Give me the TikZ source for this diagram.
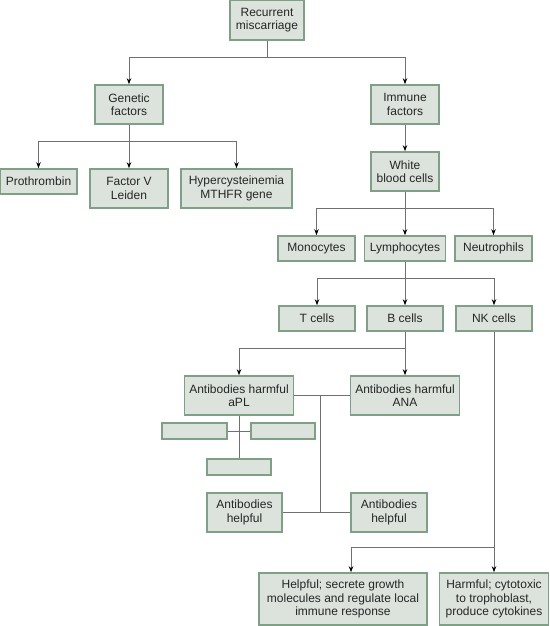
\documentclass[tikz,border=0pt]{standalone}
\usepackage{fontspec}
\setmainfont{Liberation Sans}
\usetikzlibrary{arrows.meta}
\definecolor{boxfill}{HTML}{DCE3DC}
\definecolor{boxedge}{HTML}{7F9F86}
\definecolor{linegray}{HTML}{707070}
\begin{document}
\begin{tikzpicture}[x=1pt,y=-1pt,
  every node/.style={font=\fontsize{12}{13.5}\selectfont,text=black!85},
  box/.style={draw=boxedge,fill=boxfill,line width=1.6pt,inner sep=0pt,align=center},
  blank/.style={box,line width=1.3pt},
  ln/.style={draw=linegray,line width=0.8pt},
  arr/.style={ln,-{Stealth[length=6pt,width=4.5pt,black]}}]
  \useasboundingbox (0,0) rectangle (549,626);
  % top of the tree
  \node[box,minimum width=74pt,minimum height=40pt] (rm) at (267,20) {Recurrent\\miscarriage};
  \node[box,minimum width=68pt,minimum height=39pt] (gen) at (129,104.5) {Genetic\\factors};
  \node[box,minimum width=68pt,minimum height=39pt] (imm) at (405,104.5) {Immune\\factors};
  \draw[ln] (rm.south) -- (rm.south |- 0,57) coordinate (rmj);
  \draw[arr] (rmj) -| (gen.north);
  \draw[arr] (rmj) -| (imm.north);
  % genetic side
  \node[box,minimum width=77pt,minimum height=25pt] (pro) at (38.5,181.5) {Prothrombin};
  \node[box,minimum width=78pt,minimum height=39pt] (fvl) at (129,188.5) {Factor V\\Leiden};
  \node[box,minimum width=111pt,minimum height=39pt] (hyp) at (236.5,188.5) {Hypercysteinemia\\MTHFR gene};
  \draw[ln] (gen.south) -- (gen.south |- 0,141) coordinate (genj);
  \foreach \n in {pro,fvl,hyp}
    \draw[arr] (genj) -| (\n.north);
  % immune side
  \node[box,minimum width=68pt,minimum height=39pt] (wbc) at (405,171.5) {White\\blood cells};
  \draw[arr] (imm.south) -- (wbc.north);
  \node[box,minimum width=77pt,minimum height=25pt] (mono) at (316.5,248.5) {Monocytes};
  \node[box,minimum width=81pt,minimum height=25pt] (lym) at (405,248.5) {Lymphocytes};
  \node[box,minimum width=77pt,minimum height=25pt] (neu) at (493.5,248.5) {Neutrophils};
  \draw[ln] (wbc.south) -- (wbc.south |- 0,208) coordinate (wbcj);
  \foreach \n in {mono,lym,neu}
    \draw[arr] (wbcj) -| (\n.north);
  \node[box,minimum width=76pt,minimum height=25pt] (tc) at (317,318.5) {T cells};
  \node[box,minimum width=76pt,minimum height=25pt] (bc) at (405,318.5) {B cells};
  \node[box,minimum width=76pt,minimum height=25pt] (nk) at (494,318.5) {NK cells};
  \draw[ln] (lym.south) -- (lym.south |- 0,278) coordinate (lymj);
  \foreach \n in {tc,bc,nk}
    \draw[arr] (lymj) -| (\n.north);
  % antibodies
  \node[box,minimum width=109pt,minimum height=39pt] (apl) at (239,395.5) {Antibodies harmful\\aPL};
  \node[box,minimum width=109pt,minimum height=39pt] (ana) at (405,395.5) {Antibodies harmful\\ANA};
  \draw[ln] (bc.south) -- (bc.south |- 0,348) coordinate (bcj);
  \draw[arr] (bcj) -| (apl.north);
  \draw[arr] (bcj) -- (ana.north);
  \node[blank,minimum width=65pt,minimum height=16pt] (e1) at (194.5,431) {};
  \node[blank,minimum width=64pt,minimum height=16pt] (e2) at (283,431) {};
  \node[blank,minimum width=64pt,minimum height=16pt] (e3) at (239,467) {};
  \draw[ln] (apl.south) -- (e3.north);
  \draw[ln] (e1.east) -- (e2.west);
  \node[box,minimum width=75pt,minimum height=39pt] (ah1) at (244.5,512.5) {Antibodies\\helpful};
  \node[box,minimum width=76pt,minimum height=39pt] (ah2) at (389,512.5) {Antibodies\\helpful};
  \draw[ln] (apl.east) -- (ana.west);
  \draw[ln] (ah1.east) -- (ah2.west);
  \coordinate (abj) at (320,395.5);
  \draw[ln] (abj) -- (abj |- ah1.east);
  % NK cells
  \node[box,minimum width=168pt,minimum height=52pt] (hlp) at (343,599) {Helpful; secrete growth\\molecules and regulate local\\immune response};
  \node[box,minimum width=109pt,minimum height=52pt] (hrm) at (494,599) {Harmful; cytotoxic\\to trophoblast,\\produce cytokines};
  \draw[ln] (nk.south) -- (nk.south |- 0,547) coordinate (nkj);
  \draw[arr] (nkj) -- (hrm.north);
  \draw[arr] (nkj) -| ([xshift=8pt]hlp.north);
\end{tikzpicture}
\end{document}
